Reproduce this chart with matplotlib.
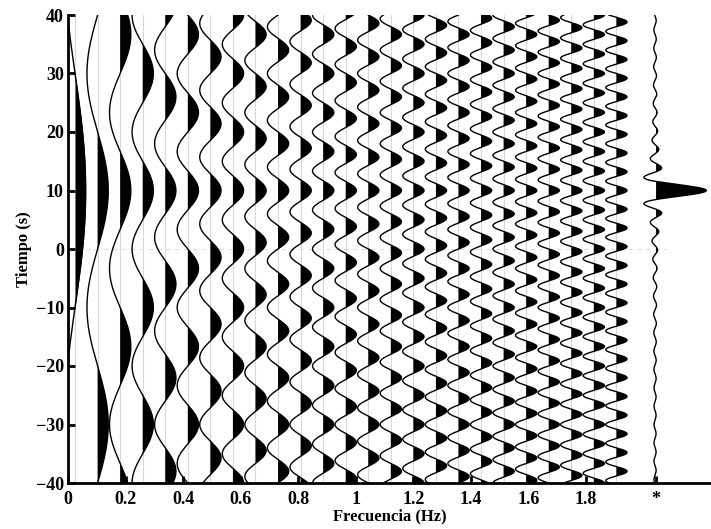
import numpy as np
import matplotlib
matplotlib.use("Agg")
import matplotlib.pyplot as plt

# ---- data ----
freqs_hz = [0.0125, 0.025, 0.0375, 0.05, 0.0625, 0.075, 0.0875, 0.1, 0.1125,
            0.125, 0.1375, 0.15, 0.1625, 0.175, 0.1875, 0.2, 0.2125, 0.225,
            0.2375, 0.25, 0.2625, 0.275, 0.2875, 0.3, 0.3125]
t_peak = 10.0                      # time where all cosines are in phase (s)
xtick_vals = [0, 0.2, 0.4, 0.6, 0.8, 1, 1.2, 1.4, 1.6, 1.8]
xtick_labels = ["0", "0.2", "0.4", "0.6", "0.8", "1", "1.2", "1.4", "1.6", "1.8"]
ytick_vals = [-40, -30, -20, -10, 0, 10, 20, 30, 40]
sum_label = "*"

# ---- layout / style ----
plt.rcParams['font.family'] = ['Liberation Serif', 'DejaVu Serif']
plt.rcParams['font.weight'] = 'bold'

fig = plt.figure(figsize=(7.11, 5.29), dpi=100)
W, H = 711, 529
ax = fig.add_axes([68 / W, 46 / H, (W - 68) / W, 468 / H])

x_first = 0.0245      # axis position of first trace
x_step = 0.0784       # spacing between traces
amp = 0.037           # wiggle amplitude in axis units
x_sum = 2.044         # position of the summed trace
sum_peak = 0.175      # peak excursion of summed trace

t = np.linspace(-40, 40, 4001)
total = np.zeros_like(t)

for i, f in enumerate(freqs_hz):
    base = x_first + x_step * i
    y = np.cos(2 * np.pi * f * (t - t_peak))
    total += y
    ax.axvline(base, color='#d8d8d8', lw=0.8, zorder=0)
    xs = base + amp * y
    ax.fill_betweenx(t, base, xs, where=y > 0, interpolate=True,
                     color='black', lw=0, zorder=2)
    ax.plot(xs, t, color='black', lw=1.0, zorder=3)

total = total / np.max(total)
xs = x_sum + sum_peak * total
ax.fill_betweenx(t, x_sum, xs, where=total > 0, interpolate=True,
                 color='black', lw=0, zorder=2)
ax.plot(xs, t, color='black', lw=1.0, zorder=3)

ax.plot([0, 2.08], [0, 0], color='#dcdcdc', lw=0.8, ls=(0, (4, 4)), zorder=0)

ax.set_xlim(0, (W - 68) / 287.7)
ax.set_ylim(-40, 40)
ax.set_xticks(xtick_vals + [x_sum])
ax.set_xticklabels(xtick_labels + [sum_label])
ax.set_yticks(ytick_vals)
ax.set_yticklabels(["\u221240", "\u221230", "\u221220", "\u221210", "0",
                    "10", "20", "30", "40"])

for s in ['top', 'right']:
    ax.spines[s].set_visible(False)
for s in ['left', 'bottom']:
    ax.spines[s].set_linewidth(2.0)
ax.tick_params(direction='in', length=5, width=2.0, labelsize=13)
ax.tick_params(axis='x', pad=6)
ax.tick_params(axis='y', pad=3)
for lab in ax.get_xticklabels() + ax.get_yticklabels():
    lab.set_fontweight('bold')

ax.set_xlabel("Frecuencia (Hz)", fontsize=12, fontweight='bold', labelpad=0)
ax.set_ylabel("Tiempo (s)", fontsize=12, fontweight='bold', labelpad=3)

fig.savefig("out.png", dpi=100)
